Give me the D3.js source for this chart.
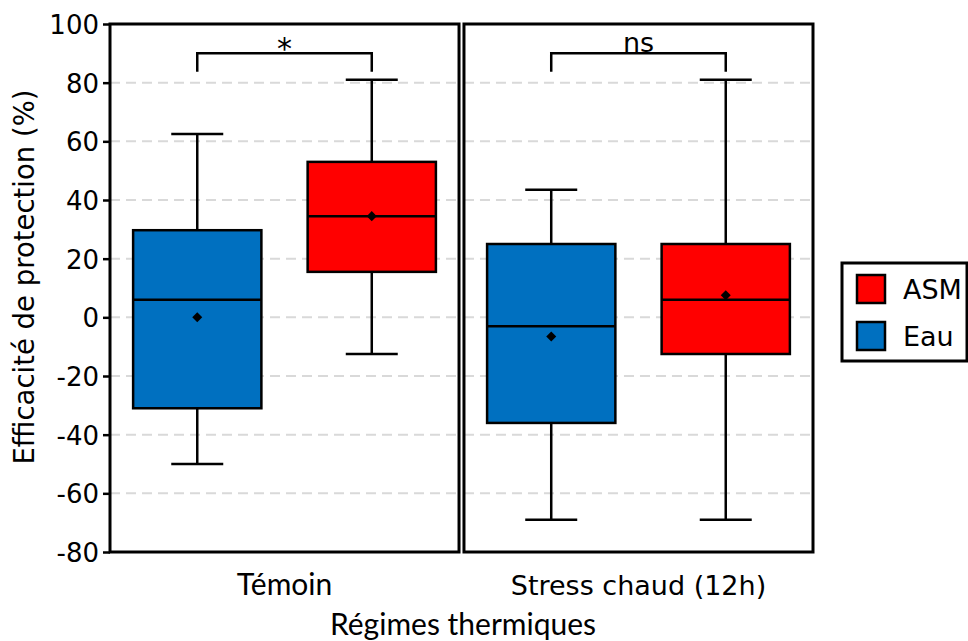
<!DOCTYPE html>
<html>
<head>
<meta charset="utf-8">
<script src="https://cdn.jsdelivr.net/npm/d3@7"></script>
<style>
  html, body { margin: 0; padding: 0; background: #fff; }
  svg { display: block; }
</style>
</head>
<body>
<svg id="chart" width="968" height="641"></svg>
<script>
// Thermal regimes (facets) and treatments within each facet
const regimes = ["Témoin", "Stress chaud (12h)"];
const treatments = ["Eau", "ASM"];
const legendOrder = ["ASM", "Eau"];

// Box statistics per regime, in treatment order [Eau, ASM]
const whiskerLow  = [[-50, -12.5], [-69, -69]];
const q1          = [[-31, 15.5], [-36, -12.5]];
const median      = [[6, 34.5], [-3, 6]];
const mean        = [[0, 34.5], [-6.5, 7.5]];
const q3          = [[29.7, 53], [25, 25]];
const whiskerHigh = [[62.5, 81], [43.5, 81]];

// Significance labels per regime
const signif = ["*", "ns"];
const signifY = 90;
const signifLeg = 83.7;

const yTicks = [100, 80, 60, 40, 20, 0, -20, -40, -60, -80];
const yTickLabels = ["100", "80", "60", "40", "20", "0", "-20", "-40", "-60", "-80"];

const colors = { "Eau": "#0070C0", "ASM": "#FF0000" };

const sans = "DejaVu Sans, Verdana, sans-serif";
const humanist = "Lato, sans-serif";
const lw = 2.5;

const svg = d3.select("#chart");

const y = d3.scaleLinear().domain([-80, 100]).range([552, 24]);

const facet = d3.scaleBand().domain(regimes).range([110, 813]).paddingInner(0.014).paddingOuter(0);
const bw = facet.bandwidth();
const inner = d3.scalePoint().domain(treatments).range([0, bw]).padding(0.5);
const boxW = inner.step() * 0.735;
const capW = 52;

// Gridlines (inside each panel)
regimes.forEach(r => {
  const x0 = facet(r);
  svg.append("g")
    .selectAll("line")
    .data(yTicks.filter(t => t > -80 && t < 100))
    .join("line")
    .attr("x1", x0).attr("x2", x0 + bw)
    .attr("y1", d => y(d)).attr("y2", d => y(d))
    .attr("stroke", "#d9d9d9")
    .attr("stroke-width", 2)
    .attr("stroke-dasharray", "10,6");
});

// Boxes
regimes.forEach((r, ri) => {
  const g = svg.append("g").attr("transform", `translate(${facet(r)},0)`);
  treatments.forEach((t, ti) => {
    const cx = inner(t);
    // whisker stem
    g.append("line")
      .attr("x1", cx).attr("x2", cx)
      .attr("y1", y(whiskerLow[ri][ti])).attr("y2", y(whiskerHigh[ri][ti]))
      .attr("stroke", "#000").attr("stroke-width", lw);
    // caps
    [whiskerLow[ri][ti], whiskerHigh[ri][ti]].forEach(v => {
      g.append("line")
        .attr("x1", cx - capW / 2).attr("x2", cx + capW / 2)
        .attr("y1", y(v)).attr("y2", y(v))
        .attr("stroke", "#000").attr("stroke-width", lw);
    });
    // box
    g.append("rect")
      .attr("x", cx - boxW / 2)
      .attr("y", y(q3[ri][ti]))
      .attr("width", boxW)
      .attr("height", y(q1[ri][ti]) - y(q3[ri][ti]))
      .attr("fill", colors[t])
      .attr("stroke", "#000").attr("stroke-width", lw);
    // median
    g.append("line")
      .attr("x1", cx - boxW / 2).attr("x2", cx + boxW / 2)
      .attr("y1", y(median[ri][ti])).attr("y2", y(median[ri][ti]))
      .attr("stroke", "#000").attr("stroke-width", lw);
    // mean
    g.append("path")
      .attr("d", d3.symbol().type(d3.symbolDiamond2).size(64)())
      .attr("transform", `translate(${cx},${y(mean[ri][ti])})`)
      .attr("fill", "#000");
  });

  // significance bracket
  const xa = inner(treatments[0]), xb = inner(treatments[1]);
  g.append("path")
    .attr("d", `M${xa},${y(signifLeg)}V${y(signifY)}H${xb}V${y(signifLeg)}`)
    .attr("fill", "none").attr("stroke", "#000").attr("stroke-width", lw);
  g.append("text")
    .attr("x", (xa + xb) / 2)
    .attr("y", signif[ri] === "*" ? y(signifY) + 6 : y(signifY) - 1)
    .attr("text-anchor", "middle")
    .attr("font-family", sans)
    .attr("font-size", signif[ri] === "*" ? 30 : 27)
    .attr("fill", "#000")
    .text(signif[ri]);

  // panel border
  svg.append("rect")
    .attr("x", facet(r)).attr("y", y(100))
    .attr("width", bw).attr("height", y(-80) - y(100))
    .attr("fill", "none").attr("stroke", "#000").attr("stroke-width", 3);

  // facet label under panel
  svg.append("text")
    .attr("x", facet(r) + bw / 2)
    .attr("y", 595)
    .attr("text-anchor", "middle")
    .attr("font-family", ri === 0 ? humanist : sans)
    .attr("font-size", ri === 0 ? 30 : 27)
    .attr("fill", "#000")
    .text(r);
});

// Y axis
const yAxis = d3.axisLeft(y)
  .tickValues(yTicks)
  .tickSize(7)
  .tickPadding(4)
  .tickFormat((d, i) => yTickLabels[i]);
const ya = svg.append("g").attr("transform", "translate(110,0)").call(yAxis);
ya.select(".domain").remove();
ya.selectAll(".tick line").attr("stroke", "#000").attr("stroke-width", lw);
ya.selectAll(".tick text")
  .attr("font-family", sans)
  .attr("font-size", 26)
  .attr("fill", "#000")
  .attr("dy", "0.36em");

// Axis titles
svg.append("text")
  .attr("transform", "translate(34,277) rotate(-90)")
  .attr("text-anchor", "middle")
  .attr("font-family", sans)
  .attr("font-size", 27.5)
  .attr("fill", "#000")
  .text("Efficacité de protection (%)");

svg.append("text")
  .attr("x", 463).attr("y", 635)
  .attr("text-anchor", "middle")
  .attr("font-family", humanist)
  .attr("font-size", 30)
  .attr("fill", "#000")
  .text("Régimes thermiques");

// Legend
const lg = svg.append("g").attr("transform", "translate(842,263)");
lg.append("rect")
  .attr("x", 0).attr("y", 0).attr("width", 125).attr("height", 98)
  .attr("fill", "#fff").attr("stroke", "#000").attr("stroke-width", 3);
legendOrder.forEach((t, i) => {
  lg.append("rect")
    .attr("x", 15).attr("y", 12 + i * 47)
    .attr("width", 28).attr("height", 28)
    .attr("fill", colors[t]).attr("stroke", "#000").attr("stroke-width", lw);
  lg.append("text")
    .attr("x", 61).attr("y", 26 + i * 47)
    .attr("dy", "0.36em")
    .attr("font-family", sans)
    .attr("font-size", 27)
    .attr("fill", "#000")
    .text(t);
});
</script>
</body>
</html>
